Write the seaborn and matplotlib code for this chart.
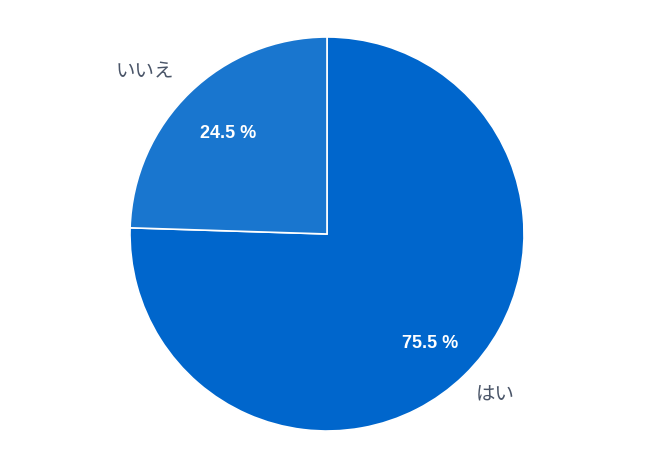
import matplotlib
matplotlib.use("Agg")
import matplotlib.pyplot as plt
import seaborn as sns

categories = ["はい", "いいえ"]
values = [75.5, 24.5]
colors = ["#0066CC", "#1976CF"]

sns.set_theme(style="white")
plt.rcParams['font.family'] = ['Noto Sans CJK JP', 'DejaVu Sans']

fig = plt.figure(figsize=(6.5, 4.74), dpi=100)
ax = fig.add_axes([0, 0, 1, 1])
R = 197.0
wedges, texts, autotexts = ax.pie(
    values, labels=categories, colors=colors, startangle=90, counterclock=False,
    autopct=lambda p: f"{p:.1f} %", pctdistance=0.74, labeldistance=1.2,
    wedgeprops=dict(edgecolor="white", linewidth=1.2),
    textprops=dict(fontsize=13),
)
for t in autotexts:
    t.set_color("white")
    t.set_fontweight("bold")
    t.set_family(["Liberation Sans", "DejaVu Sans"])
    t.set_fontsize(13)
for t in texts:
    t.set_color("#4a5568")
    t.set_fontsize(14)
    t.set_ha("center")
    t.set_va("center")
# label positions in data units (pixels relative to centre / radius)
texts[0].set_position((168 / R, -161 / R))
texts[1].set_position((-182 / R, 162 / R))
autotexts[0].set_position((103 / R, -109 / R))
autotexts[1].set_position((-99 / R, 101 / R))

ax.set_aspect("equal")
ax.set_xlim(-327 / R, 323 / R)
ax.set_ylim(-240 / R, 234 / R)
ax.axis("off")
fig.savefig("out.png", dpi=100, facecolor="white")
